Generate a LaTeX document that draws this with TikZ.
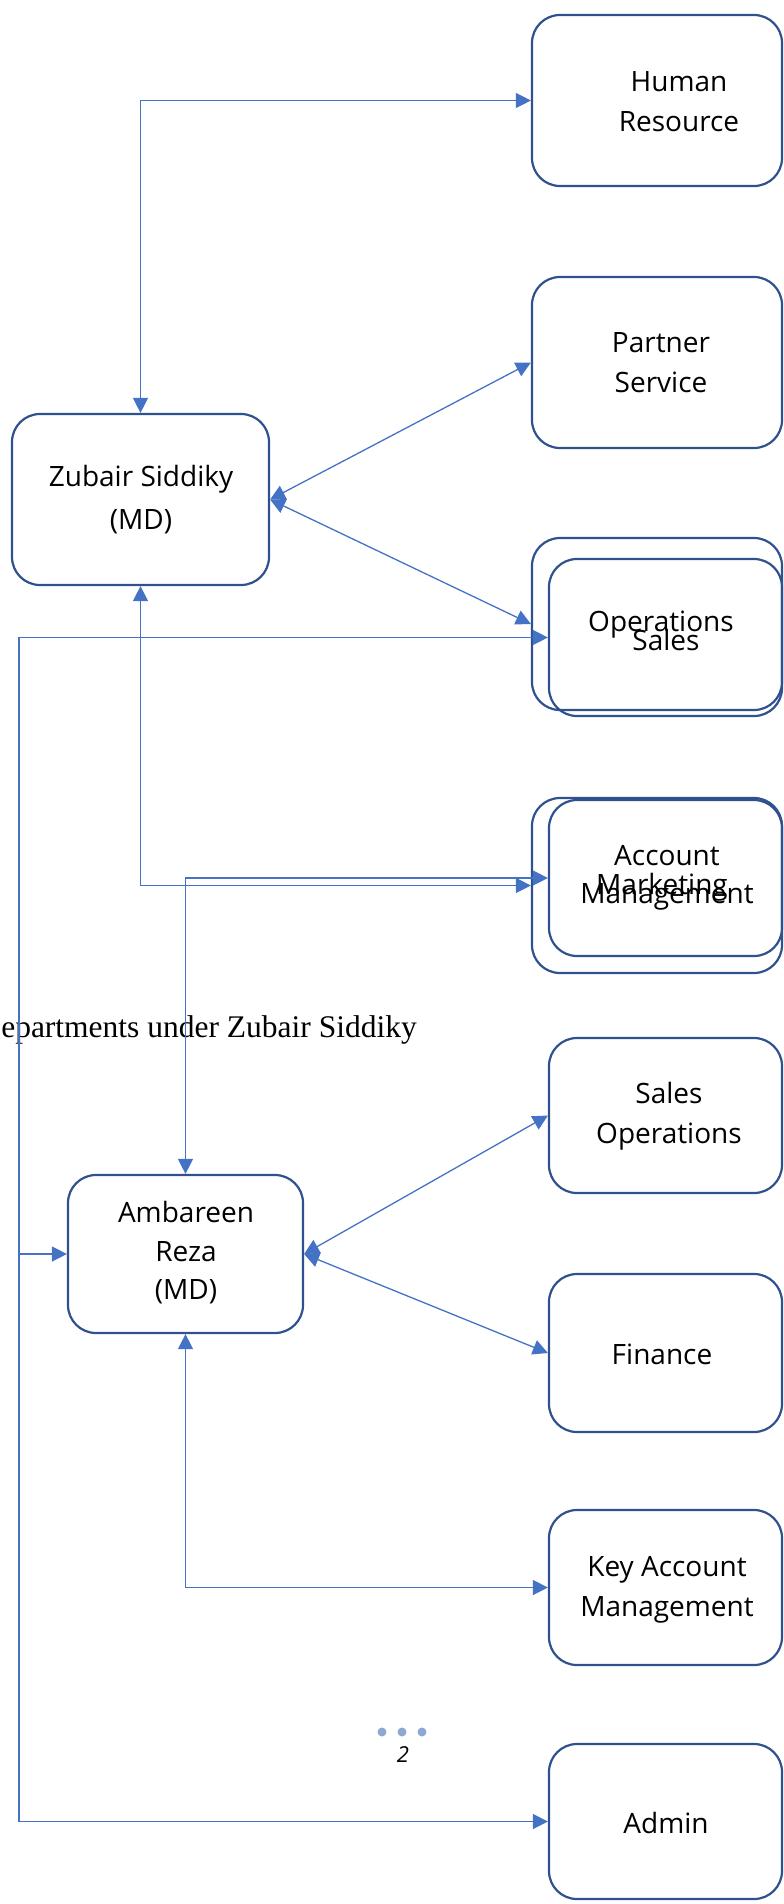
\documentclass[tikz,border=0pt]{standalone}
\usepackage{fontspec}
\setmainfont{Liberation Serif}
\newfontfamily\boxfont{Open Sans}
\usetikzlibrary{arrows.meta}
\definecolor{boxc}{HTML}{2F528F}
\definecolor{lnc}{HTML}{4472C4}
\definecolor{dotc}{HTML}{8EA9D1}
\begin{document}
\begin{tikzpicture}[x=1pt,y=-1pt,
  box/.style={draw=boxc, line width=2.2pt, rounded corners=28pt, inner sep=0pt},
  lbl/.style={font=\boxfont\fontsize{28}{40}\selectfont, align=center, inner sep=0pt},
  conn/.style={draw=lnc, line width=1.3pt},
  >={Triangle[length=15pt,width=15pt]}]
\useasboundingbox (0,0) rectangle (784,1904);
% boxes
\node[box, minimum width=250pt, minimum height=171pt] (hr) at (657,100.5) {};
\node[box, minimum width=250pt, minimum height=171pt] (ps) at (657,362.5) {};
\node[box, minimum width=250pt, minimum height=172pt] (ops) at (657,624) {};
\node[box, minimum width=233pt, minimum height=157pt] (sales) at (665.5,637.5) {};
\node[box, minimum width=250pt, minimum height=175pt] (mkt) at (657,885.5) {};
\node[box, minimum width=233pt, minimum height=156pt] (acc) at (665.5,878) {};
\node[box, minimum width=233pt, minimum height=155pt] (sop) at (665.5,1115.5) {};
\node[box, minimum width=233pt, minimum height=158pt] (fin) at (665.5,1353) {};
\node[box, minimum width=233pt, minimum height=155pt] (kam) at (665.5,1587.5) {};
\node[box, minimum width=233pt, minimum height=155pt] (adm) at (665.5,1821.5) {};
\node[box, minimum width=257pt, minimum height=171pt] (zub) at (140.5,499.5) {};
\node[box, minimum width=235pt, minimum height=158pt] (amb) at (185.5,1254) {};
% labels
\node[lbl] (hrT) at (679,102) {Human\\Resource};
\node[lbl] (psT) at (661,363) {Partner\\Service};
\node[lbl] (opsT) at (661,625) {Operations};
\node[lbl] (salesT) at (666,640) {Sales};
\node[lbl] (mktT) at (662,887) {Marketing};
\node[lbl, font=\boxfont\fontsize{28}{38}\selectfont] (accT) at (667,878) {Account\\Management};
\node[lbl] (sopT) at (669,1116) {Sales\\Operations};
\node[lbl] (finT) at (662,1354) {Finance};
\node[lbl] (kamT) at (667,1590) {Key Account\\Management};
\node[lbl] (admT) at (666,1823) {Admin};
\node[lbl, font=\boxfont\fontsize{28}{43}\selectfont] (zubT) at (141,500) {Zubair Siddiky\\(MD)};
\node[lbl, font=\boxfont\fontsize{28}{38.5}\selectfont] (ambT) at (186,1253) {Ambareen\\Reza\\(MD)};
% caption
\node[anchor=base east, inner sep=0pt, font=\fontsize{31.5}{36}\selectfont] (cap) at (417,1037) {Departments under Zubair Siddiky};
% connectors
\coordinate (lx) at (19,0);
\draw[conn,<->] (zub.north) |- (hr.west);
\draw[conn,<->] (zub.east) -- (ps.west);
\draw[conn,<->] (zub.east) -- (ops.west);
\draw[conn,<->] (zub.south) |- (mkt.west);
\draw[conn,<->] (amb.north) |- (acc.west);
\draw[conn,<->] (amb.east) -- (sop.west);
\draw[conn,<->] (amb.east) -- (fin.west);
\draw[conn,<->] (amb.south) |- (kam.west);
\draw[conn,<->] (sales.west) -- (lx |- sales.west) -- (lx |- adm.west) -- (adm.west);
\draw[conn,->] (lx |- amb.west) -- (amb.west);
% page marker
\fill[dotc] (382,1732) circle (4.5pt) (402,1732) circle (4.5pt) (422,1732) circle (4.5pt);
\node[font=\boxfont\itshape\fontsize{22}{26}\selectfont, inner sep=0pt] (pg) at (403,1755) {2};
\end{tikzpicture}
\end{document}
